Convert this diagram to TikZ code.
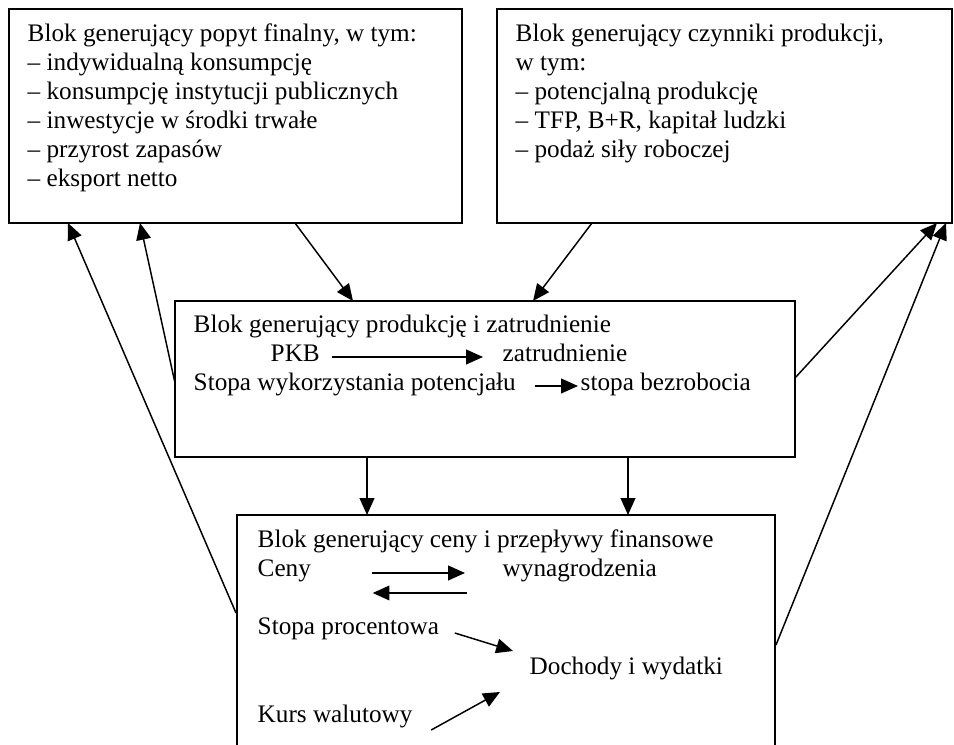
\documentclass[tikz,border=0pt]{standalone}
\usepackage{fontspec}
\setmainfont{Liberation Serif}
\usepackage{tikz}
\usetikzlibrary{arrows.meta,calc,fit}
\tikzset{
  blok/.style = {draw=black, line width=0.8pt, rectangle, inner sep=0pt, outer sep=0pt},% ramka bloku
  opis/.style = {inner sep=0pt, anchor=base west, font=\fontsize{12}{13.8}\selectfont},
  lista/.style = {opis, align=left, anchor=north west},% tekst wielowierszowy
}

\begin{document}
\begin{tikzpicture}[x=0.476pt,y=-0.476pt,->,>={Triangle[length=8pt,width=7pt]},line width=0.7pt]
\clip (0,0) rectangle (954,745);
% bloki
\node [blok, fit={(9,9) (462,223)}] (popyt) {};
\node [blok, fit={(497,9) (952,223)}] (czynniki) {};
\node [blok, fit={(175,301) (795,457)}] (produkcja) {};
\node [blok, fit={(237,515) (775,800)}] (ceny) {};

% opisy
\node [lista] (popytOpis) at (27,23) {Blok generujący popyt finalny, w tym:\\
  – indywidualną konsumpcję\\
  – konsumpcję instytucji publicznych\\
  – inwestycje w środki trwałe\\
  – przyrost zapasów\\
  – eksport netto};
\node [lista] (czynnikiOpis) at (515,23) {Blok generujący czynniki produkcji,\\
  w tym:\\
  – potencjalną produkcję\\
  – TFP, B+R, kapitał ludzki\\
  – podaż siły roboczej};

\node [opis] (prodTytul) at (193,333) {Blok generujący produkcję i zatrudnienie};
\node [opis] (pkb) at (270,362) {PKB};
\node [opis] (zatr) at (502,362) {zatrudnienie};
\node [opis] (stopaWyk) at (193,391) {Stopa wykorzystania potencjału};
\node [opis] (bezrob) at (580,391) {stopa bezrobocia};

\node [opis] (cenyTytul) at (257,548) {Blok generujący ceny i przepływy finansowe};
\node [opis] (cenyTxt) at (257,577) {Ceny};
\node [opis] (wyn) at (502,577) {wynagrodzenia};
\node [opis] (stopaProc) at (257,635) {Stopa procentowa};
\node [opis] (doch) at (529,675) {Dochody i wydatki};
\node [opis] (kurs) at (257,723) {Kurs walutowy};

% strzalki w blokach
\draw ($(pkb.base east)+(11,-5)$) -- ($(zatr.base west)+(-19,-5)$);
\draw ($(stopaWyk.base east)+(18,-5)$) -- ($(bezrob.base west)+(-2,-5)$);
\draw ($(cenyTxt.base east)+(60,-4)$) -- ($(wyn.base west)+(-37,-4)$);
\draw ($(wyn.base west)+(-35,16)$) -- ($(cenyTxt.base east)+(61,16)$);
\draw ($(stopaProc.base east)+(15,-2)$) -- ($(doch.base west)+(-16,-24)$);
\draw ($(kurs.base east)+(18,7)$) -- ($(doch.base west)+(-29,17)$);

% strzalki miedzy blokami
\draw ($(popyt.south west)+(286,0)$) -- ($(produkcja.north west)+(178,0)$);
\draw ($(czynniki.south west)+(95,0)$) -- ($(produkcja.north west)+(358,0)$);
\draw ($(produkcja.south west)+(192,0)$) -- ($(ceny.north west)+(130,0)$);
\draw ($(produkcja.south west)+(453,0)$) -- ($(ceny.north west)+(391,0)$);
\draw ($(produkcja.north west)+(0,82)$) -- ($(popyt.south west)+(131,0)$);
\draw ($(ceny.north west)+(-1,98)$) -- ($(popyt.south west)+(59,0)$);
\draw ($(produkcja.north east)+(0,77)$) -- ($(czynniki.south west)+(440,0)$);
\draw ($(ceny.north east)+(1,130)$) -- ($(czynniki.south west)+(449,0)$);
\end{tikzpicture}
\end{document}
